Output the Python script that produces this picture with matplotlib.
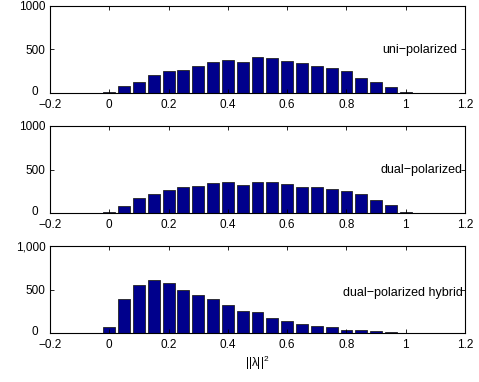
import numpy as np
import matplotlib.pyplot as plt
from matplotlib.ticker import FuncFormatter

plt.rcParams['font.family'] = ['Liberation Sans', 'DejaVu Sans']
plt.rcParams['font.size'] = 8.5
plt.rcParams['mathtext.fontset'] = 'custom'
plt.rcParams['mathtext.rm'] = 'Liberation Sans'

# bin centres of the histograms
centers = np.round(np.arange(0, 1.0001, 0.05), 2)

# counts
uni_pol = [15, 77, 123, 208, 258, 265, 308, 354, 377, 358, 415,
           400, 365, 350, 308, 285, 258, 170, 123, 73, 8]
dual_pol = [10, 77, 177, 215, 270, 300, 308, 342, 362, 323, 354,
            358, 335, 300, 304, 273, 250, 215, 146, 88, 15]
dual_hybrid = [65, 396, 546, 608, 577, 500, 438, 396, 327, 254, 238,
               173, 135, 108, 85, 73, 38, 31, 19, 8, 2]

labels = ["uni\u2212polarized", "dual\u2212polarized", "dual\u2212polarized hybrid"]
label_x = [1.173, 1.193, 1.193]
label_y = [500, 500, 460]

fig = plt.figure(figsize=(4.79, 3.82), dpi=100)
rows = [(6, 93), (126, 213), (246, 333)]
series = [uni_pol, dual_pol, dual_hybrid]

for k, (top, bot) in enumerate(rows):
    ax = fig.add_axes([50 / 479, 1 - bot / 382, 415 / 479, (bot - top) / 382])
    ax.bar(centers, series[k], width=0.04, color='#00008c',
           edgecolor='#222222', linewidth=0.6)
    ax.set_xlim(-0.2, 1.2)
    ax.set_ylim(0, 1000)
    ax.set_xticks([-0.2, 0, 0.2, 0.4, 0.6, 0.8, 1, 1.2])
    ax.set_yticks([0, 500, 1000])
    ax.xaxis.set_major_formatter(FuncFormatter(lambda v, p: ('%g' % v).replace('-', '\u2212')))
    # zero is drawn by hand below, shifted out of the corner like MATLAB does
    if k == 2:
        ax.yaxis.set_major_formatter(FuncFormatter(lambda v, p: '' if v == 0 else '{:,.0f}'.format(v)))
    else:
        ax.yaxis.set_major_formatter(FuncFormatter(lambda v, p: '' if v == 0 else '%d' % v))
    ax.tick_params(direction='in', top=True, right=True, length=3, width=0.6)
    ax.tick_params(axis='x', pad=4)
    ax.tick_params(axis='y', pad=3)
    for s in ax.spines.values():
        s.set_linewidth(0.8)
    ax.text(-0.036, 0.01, '0', transform=ax.transAxes, ha='center', va='center')
    ax.text(label_x[k], label_y[k], labels[k], ha='right', va='center', fontsize=9)
    if k == 2:
        ax.set_xlabel('||\u03bb||$^2$', labelpad=2)

fig.savefig('out.png', dpi=100)
